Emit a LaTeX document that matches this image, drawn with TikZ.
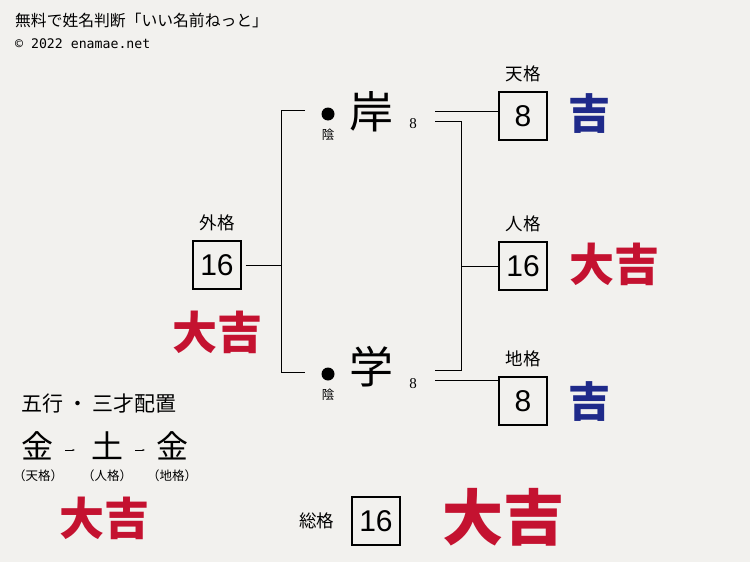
\documentclass[tikz,border=0pt]{standalone}
\usepackage{fontspec}
\setmainfont{Noto Sans CJK JP}
\newfontfamily\monofont{DejaVu Sans Mono}
\newfontfamily\latinserif{Liberation Serif}
\newfontfamily\boxfont{Liberation Sans}
\usetikzlibrary{positioning, arrows.meta}
\definecolor{paper}{HTML}{F2F1EE}
\definecolor{kichired}{HTML}{C41230}
\definecolor{kichiblue}{HTML}{1F2A8A}
\tikzset{>=latex}

\begin{document}
\begin{tikzpicture}[x=1pt,y=-1pt,
		kakubox/.style={draw, line width=1.4pt, minimum width=48pt, minimum height=48pt, inner sep=0pt, font=\fontsize{30}{30}\boxfont},
		kakulabel/.style={font=\fontsize{17.5}{17.5}\selectfont, inner sep=0pt},
		bigchar/.style={font=\fontsize{44}{44}\selectfont, inner sep=0pt},
		strokes/.style={font=\fontsize{15}{15}\latinserif, inner sep=0pt},
		yin/.style={font=\fontsize{12.5}{12.5}\selectfont, inner sep=0pt},
		daikichi/.style={text=kichired, font=\fontsize{45}{45}\bfseries, inner sep=0pt},
		kichi/.style={text=kichiblue, font=\fontsize{42}{42}\bfseries, inner sep=0pt},
		gogyo/.style={font=\fontsize{32}{32}\selectfont, inner sep=0pt},
		gogyolabel/.style={font=\fontsize{12.5}{12.5}\selectfont, inner sep=0pt}]
		% Paper
		\fill[paper] (0,0) rectangle (750,562);
		\useasboundingbox (0,0) rectangle (750,562);
		% Header
		\node[anchor=west, inner sep=0pt, font=\fontsize{15.8}{15.8}\selectfont] (title) at (15,21) {無料で姓名判断「いい名前ねっと」};
		\node[anchor=west, inner sep=0pt, font=\fontsize{13.2}{13.2}\monofont] (copy) at (15,44) {© 2022 enamae.net};
		% Name
		\node[circle, fill=black, minimum size=13pt, inner sep=0pt] (kishidot) at (328,114) {};
		\node[yin] (kishiyin) at (328,135) {陰};
		\node[bigchar] (kishi) at (371,112) {岸};
		\node[strokes] (kishistk) at (413,124) {8};
		\node[circle, fill=black, minimum size=13pt, inner sep=0pt] (manabudot) at (328,374) {};
		\node[yin] (manabuyin) at (328,395) {陰};
		\node[bigchar] (manabu) at (371,367) {学};
		\node[strokes] (manabustk) at (413,384) {8};
		% Kaku boxes
		\node[kakubox] (tenkaku) at (523,116) {8};
		\node[kakulabel, above=9pt of tenkaku] (tenlbl) {天格};
		\node[kakubox] (jinkaku) at (523,266) {16};
		\node[kakulabel, above=9pt of jinkaku] (jinlbl) {人格};
		\node[kakubox] (chikaku) at (523,401) {8};
		\node[kakulabel, above=9pt of chikaku] (chilbl) {地格};
		\node[kakubox] (gaikaku) at (217,265) {16};
		\node[kakulabel, above=9pt of gaikaku] (gailbl) {外格};
		\node[kakubox] (sokaku) at (376,521) {16};
		\node[kakulabel, left=17pt of sokaku] (solbl) {総格};
		% Fortunes
		\node[kichi] (tenkichi) at (589,114) {吉};
		\node[daikichi] (jinkichi) at (614,264) {大吉};
		\node[kichi] (chikichi) at (589,402) {吉};
		\node[daikichi] (gaikichi) at (217,332) {大吉};
		\node[daikichi] (gogyokichi) at (104,518) {大吉};
		\node[daikichi, font=\fontsize{61}{61}\bfseries] (sokichi) at (503,517) {大吉};
		% Left bracket
		\coordinate (lt) at (281,110);
		\coordinate (lt1) at (305,110);
		\coordinate (lb) at (281,372);
		\coordinate (lb1) at (305,372);
		\draw[line width=0.8pt] (lt1) -- (lt) -- (lb) -- (lb1);
		\draw[line width=0.8pt] (gaikaku.east) ++(4,0) -- (gaikaku.east -| lt);
		% Right bracket
		\coordinate (rt) at (435,111);
		\coordinate (rm1) at (435,121);
		\coordinate (rm2) at (461,121);
		\coordinate (rm3) at (461,370);
		\coordinate (rm4) at (435,370);
		\coordinate (rb) at (435,380);
		\draw[line width=0.8pt] (rt) -- (rt -| tenkaku.west);
		\draw[line width=0.8pt] (rm1) -- (rm2) -- (rm3) -- (rm4);
		\draw[line width=0.8pt] (jinkaku.west -| rm2) -- (jinkaku.west);
		\draw[line width=0.8pt] (rb) -- (rb -| chikaku.west);
		% Gogyo
		\node[anchor=west, inner sep=0pt, font=\fontsize{21}{21}\selectfont] (gogyotitle) at (21,404) {五行\hspace{4pt}・\hspace{4pt}三才配置};
		\node[gogyo] (gten) at (37,446) {金};
		\node[gogyo] (gjin) at (107,446) {土};
		\node[gogyo] (gchi) at (172,446) {金};
		\node[gogyolabel] (gtenlbl) at (38,476) {（天格）};
		\node[gogyolabel] (gjinlbl) at (107,476) {（人格）};
		\node[gogyolabel] (gchilbl) at (172,476) {（地格）};
		\draw[-{Latex[length=2.5pt]}, line width=0.6pt] (gten.east) ++(12,4) -- ++(10,0);
		\draw[-{Latex[length=2.5pt]}, line width=0.6pt] (gjin.east) ++(12,4) -- ++(10,0);
	\end{tikzpicture}
\end{document}
